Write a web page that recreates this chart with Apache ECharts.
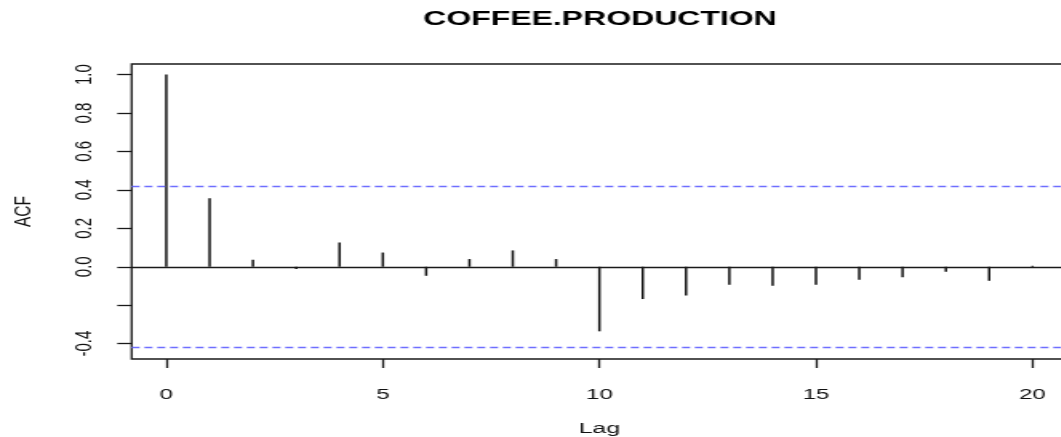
<!DOCTYPE html>
<html><head><meta charset="utf-8">
<script src="https://cdn.jsdelivr.net/npm/echarts@6/dist/echarts.min.js"></script>
<style>
html,body{margin:0;padding:0;background:#fff;overflow:hidden;width:1061px;height:437px;}
#wrap{width:1061px;height:437px;overflow:hidden;}
#chart{width:664px;height:437px;transform:scaleX(1.6);transform-origin:0 0;}
</style></head><body><div id="wrap"><div id="chart"></div></div>
<script>
const chartTitle = 'COFFEE.PRODUCTION';
const xName = 'Lag';
const yName = 'ACF';
const lags = [0,1,2,3,4,5,6,7,8,9,10,11,12,13,14,15,16,17,18,19,20];
const acfValues = [1.0,0.357,0.036,-0.012,0.126,0.074,-0.047,0.040,0.085,0.040,-0.336,-0.168,-0.150,-0.093,-0.099,-0.093,-0.067,-0.054,-0.026,-0.073,0.005];
const confLimit = 0.425;
const xTickValues = [0,5,10,15,20];
const yTickValues = [-0.4,-0.2,0,0.2,0.4,0.6,0.8,1.0];
const yLabelValues = [-0.4,0,0.2,0.4,0.6,0.8,1.0];

const FONT = '"Liberation Sans", Arial, sans-serif';
const chart = echarts.init(document.getElementById('chart'), null, {renderer:'canvas'});
chart.setOption({
  animation:false,
  backgroundColor:'#fff',
  graphic:[{
    type:'text', x:375, y:19,
    style:{text:chartTitle, align:'center', verticalAlign:'middle',
      font:'bold 20px ' + FONT, fill:'#000'}
  }],
  grid:{left:82.3, right:-3, top:64, bottom:78, show:true, containLabel:false, outerBoundsMode:'none',
    borderColor:'#1a1a1a', borderWidth:1.3, backgroundColor:'transparent'},
  xAxis:{
    type:'value', min:-0.8, max:20.8,
    name:xName, nameLocation:'middle', nameGap:62,
    nameTextStyle:{fontFamily:FONT, fontSize:15.5, color:'#111'},
    axisLine:{show:false, onZero:false},
    splitLine:{show:false},
    axisTick:{show:true, inside:false, length:9, customValues:xTickValues, lineStyle:{color:'#1a1a1a', width:1.3}},
    axisLabel:{customValues:xTickValues, margin:28, fontFamily:FONT, fontSize:15, color:'#111',
      formatter:v=>String(v)}
  },
  yAxis:{
    type:'value', min:-0.48, max:1.055,
    name:yName, nameLocation:'middle', nameGap:60, nameRotate:90,
    nameTextStyle:{fontFamily:FONT, fontSize:15.5, color:'#111'},
    axisLine:{show:false, onZero:false},
    splitLine:{show:false},
    axisTick:{show:true, inside:false, length:9, customValues:yTickValues, lineStyle:{color:'#1a1a1a', width:1.3}},
    axisLabel:{customValues:yLabelValues, rotate:90, margin:22, fontFamily:FONT, fontSize:15, color:'#111',
      formatter:v=>Number(v).toFixed(1)}
  },
  series:[{
    type:'bar',
    data:lags.map((l,i)=>[l, acfValues[i]]),
    barWidth:1.5,
    itemStyle:{color:'#111'},
    silent:true,
    markLine:{
      silent:true, symbol:'none', label:{show:false},
      data:[
        {yAxis:0, lineStyle:{type:'solid', color:'#1a1a1a', width:1.3}},
        {yAxis:confLimit, lineStyle:{type:[5,3], color:'#6e6eff', width:1.4}},
        {yAxis:-confLimit, lineStyle:{type:[5,3], color:'#6e6eff', width:1.4}}
      ]
    }
  }]
});
</script></body></html>
